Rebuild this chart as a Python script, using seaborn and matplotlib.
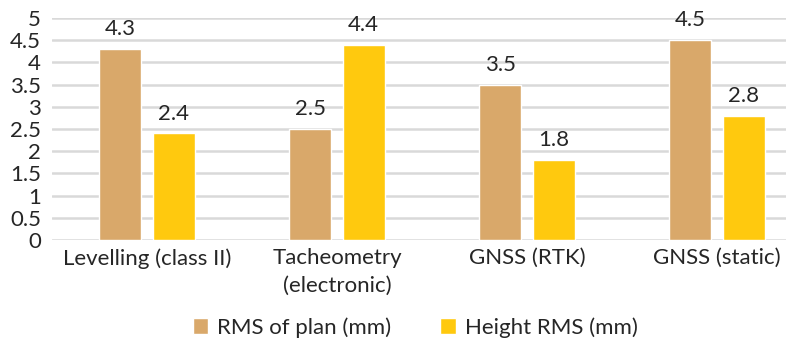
import matplotlib
matplotlib.use("Agg")
import matplotlib.pyplot as plt
import numpy as np
import pandas as pd
import seaborn as sns

categories = ["Levelling (class II)", "Tacheometry\n(electronic)", "GNSS (RTK)", "GNSS (static)"]
series = ["RMS of plan (mm)", "Height RMS (mm)"]
plan_rms = [4.3, 2.5, 3.5, 4.5]
height_rms = [2.4, 4.4, 1.8, 2.8]
y_ticks = [0, 0.5, 1, 1.5, 2, 2.5, 3, 3.5, 4, 4.5, 5]

df = pd.DataFrame({
    "method": categories * 2,
    "series": [series[0]] * 4 + [series[1]] * 4,
    "value": plan_rms + height_rms,
})

sns.set_style("white")
plt.rcParams['font.family'] = ['Lato', 'DejaVu Sans']
plt.rcParams['text.color'] = '#262626'

W, H = 786, 338
fig = plt.figure(figsize=(W / 100, H / 100), dpi=100)
ax = fig.add_axes([52 / W, 98 / H, (W - 52) / W, 222 / H])

colors = ["#D9A86A", "#FFC90E"]
sns.barplot(data=df, x="method", y="value", hue="series", palette=colors,
            width=0.563, gap=0.215, saturation=1, ax=ax, legend=True)

for cont in ax.containers:
    ax.bar_label(cont, labels=[f"{v:.1f}" for v in cont.datavalues],
                 padding=7, fontsize=16, color="#262626")

ax.set_ylim(0, 5)
ax.set_xlim(-0.5, (W - 52) / 190 - 0.5)
ax.set_yticks(y_ticks)
ax.set_yticklabels([f"{t:g}" for t in y_ticks])
ax.yaxis.grid(True, color="#D9D9D9", linewidth=1.8)
ax.set_axisbelow(True)
for s in ax.spines.values():
    s.set_visible(False)
ax.tick_params(axis="both", length=0, labelsize=16, colors="#262626")
ax.tick_params(axis="x", pad=6)
ax.tick_params(axis="y", pad=8)
for lbl in ax.get_xticklabels():
    lbl.set_linespacing(1.45)
ax.set_xlabel("")
ax.set_ylabel("")

ax.legend(loc="lower center", bbox_to_anchor=((415 - 52) / (W - 52), -0.53),
          ncol=2, frameon=False, fontsize=16, handlelength=0.7, handleheight=0.7,
          handletextpad=0.4, columnspacing=2.2)

fig.savefig("out.png", dpi=100)
